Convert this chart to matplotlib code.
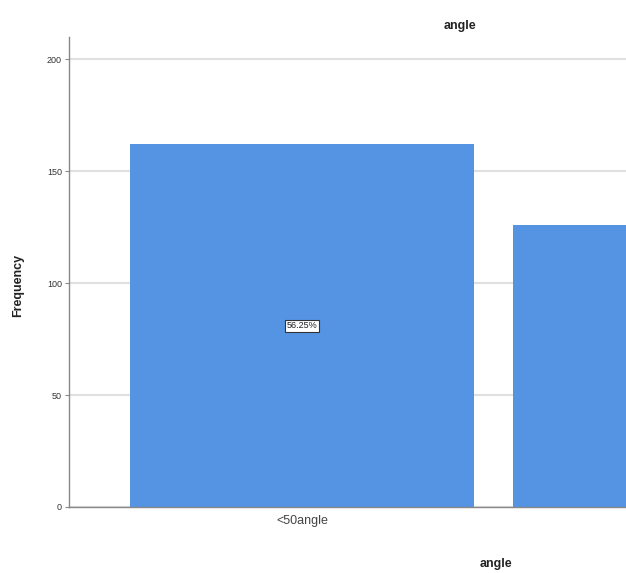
import matplotlib
matplotlib.use("Agg")
import matplotlib.pyplot as plt

categories = ["<50angle", ">=50angle"]
counts = [162, 126]
yticks = [0, 50, 100, 150, 200]

plt.rcParams['font.family'] = ['Liberation Sans', 'DejaVu Sans']

W, H = 626, 573
fig = plt.figure(figsize=(W/100, H/100), dpi=100)
ax_left, ax_right = 69, 626
ax_top, ax_bottom = 37, 507
ax = fig.add_axes([ax_left/W, 1-ax_bottom/H, (ax_right-ax_left)/W, (ax_bottom-ax_top)/H])

total = sum(counts)
x = list(range(len(categories)))
xlim = (-0.608, 0.846)
ax.bar(x, counts, width=0.898, color="#5494E3", zorder=2)
ax.set_xlim(*xlim)
ax.set_ylim(0, 210)
ax.set_yticks(yticks)
ax.set_yticklabels([str(t) for t in yticks], fontsize=6.5, color="#333333")
ax.set_xticks([0])
ax.set_xticklabels([categories[0]], fontsize=9, color="#444444")
ax.tick_params(axis='x', length=0, pad=6)
ax.tick_params(axis='y', length=3, width=0.8, color="#888888", pad=2)
ax.yaxis.grid(True, color="#E0E0E0", linewidth=1.5, zorder=0)
ax.set_axisbelow(True)
for s in ["top", "right"]:
    ax.spines[s].set_visible(False)
for s in ["left", "bottom"]:
    ax.spines[s].set_color("#888888")
    ax.spines[s].set_linewidth(1)

for xi, c in zip(x, counts):
    if xlim[0] < xi < xlim[1]:
        ax.text(xi, c/2, f"{c/total*100:.2f}%", ha="center", va="center", fontsize=6.5,
                color="#222222", zorder=3,
                bbox=dict(boxstyle="square,pad=0.15", fc="white", ec="#333333", lw=0.8))

fig.text(460/W, 1-26/H, "angle", ha="center", va="center", fontsize=9, fontweight="bold", color="#222222")
fig.text(496/W, 1-564/H, "angle", ha="center", va="center", fontsize=9, fontweight="bold", color="#222222")
fig.text(18/W, 1-285/H, "Frequency", ha="center", va="center", rotation=90, fontsize=9, fontweight="bold", color="#222222")

fig.savefig("out.png", dpi=100)
